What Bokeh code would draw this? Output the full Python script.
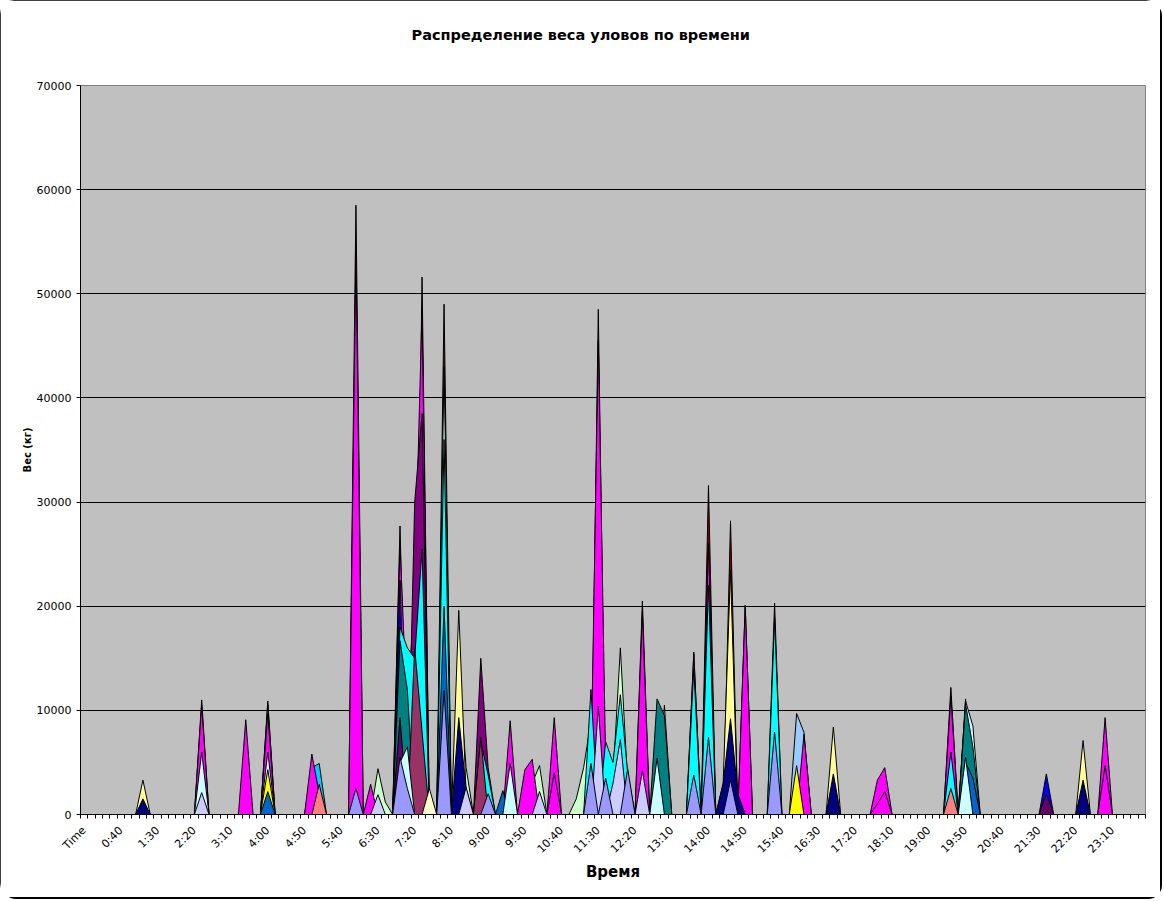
import math
from bokeh.plotting import figure
from bokeh.models import Range1d, FixedTicker, Title
from bokeh.embed import file_html
from bokeh.resources import INLINE

# ---- categories (10-minute slots, first category is the header "Time") ----
categories = ["Time"] + [f"{m // 60}:{m % 60:02d}" for m in range(0, 1440, 10)]
label_step = 5
y_ticks = [0, 10000, 20000, 30000, 40000, 50000, 60000, 70000]

title_text = "Распределение веса уловов по времени"
x_title = "Время"
y_title = "Вес (кг)"

# ---- series values (kg), keyed by time slot ----
dark_tips = {"2:30": 11000, "4:00": 10900, "6:00": 58500, "7:00": 27700, "7:30": 51600,
             "8:00": 49000, "11:30": 48500, "12:30": 20500, "13:40": 15600, "14:00": 31600,
             "14:30": 28200, "14:50": 20100, "15:30": 20300, "19:30": 12200, "19:50": 11100}
pale_blue = {"4:00": 10600, "16:00": 9700, "16:10": 7900}
pale_green = {"6:30": 4400, "6:40": 1200, "8:20": 14000, "8:30": 4500, "10:00": 3000,
              "10:10": 4700, "11:00": 1500, "11:10": 4500, "11:20": 9000, "11:50": 3500,
              "12:00": 16000, "12:10": 3000, "13:00": 10500}
light_yellow = {"1:10": 3300, "8:20": 19600, "8:30": 2000, "14:20": 3000, "14:30": 23500,
                "16:50": 8400, "22:30": 7100}
sky_blue = {"5:00": 4500, "5:10": 4900}
magenta = {"2:30": 10500, "3:30": 9100, "4:00": 9700, "5:00": 5800, "5:10": 2000,
           "6:00": 54000, "6:20": 2900, "7:00": 26000, "7:10": 9000, "7:20": 22000,
           "7:30": 48500, "9:30": 9000, "9:50": 4300, "10:00": 5300, "10:30": 9300,
           "11:20": 4000, "11:30": 45500, "11:40": 5000, "12:30": 19500, "13:40": 15400,
           "14:00": 26000, "14:50": 20000, "16:10": 7700, "17:50": 3300, "18:00": 4500,
           "19:30": 11400, "23:00": 9300}
purple = {"7:20": 30000, "7:30": 38500, "8:50": 15000, "9:00": 4500}
pale_cyan_back = {"4:00": 6000, "8:00": 43000, "19:50": 10900, "20:00": 8500}
blue = {"7:00": 22500, "21:40": 3900}
cyan = {"7:00": 18000, "7:10": 16000, "7:20": 15000, "7:30": 25500, "8:00": 36000,
        "8:50": 7000, "9:00": 3800, "11:20": 12000, "11:40": 7000, "11:50": 5000,
        "12:00": 11500, "12:10": 4000, "13:40": 14000, "14:00": 22000, "15:30": 18800,
        "19:30": 6000}
teal = {"7:00": 16700, "7:10": 12000, "12:50": 11100, "13:00": 9500, "19:50": 10600, "20:00": 6500}
navy = {"1:10": 1500, "8:20": 9300, "8:30": 2500, "14:20": 3000, "14:30": 9200, "14:40": 2000,
        "16:50": 3900, "22:30": 3300}
plum = {"7:20": 16000, "7:30": 8000, "8:50": 7400}
dark_purple = {"7:00": 9300, "21:40": 2000}
yellow = {"4:00": 4300, "16:00": 4700}
blue_mid = {"4:00": 2200, "8:00": 20000, "9:20": 2300, "19:50": 5000, "20:00": 3500}
pale_cyan_front = {"2:30": 6000, "7:00": 5000, "7:10": 6500, "9:30": 4900, "12:50": 5400, "19:50": 5500}
coral = {"5:10": 2900, "19:30": 2500}
magenta_b = {"10:30": 4000, "17:50": 1000, "18:00": 2200, "23:00": 4700}
pale_yellow = {"7:40": 2500}
pale_lavender = {"2:30": 2100, "6:30": 1900, "8:30": 2600, "10:10": 2200, "11:30": 10400,
                 "11:50": 3000, "12:00": 7200, "12:30": 4200}
lavender = {"6:00": 2500, "7:00": 5500, "7:10": 2500, "8:00": 11900, "9:00": 2000,
            "11:20": 4900, "11:40": 3500, "12:10": 4400, "13:40": 3800, "14:00": 7400,
            "14:30": 3300, "15:30": 7900}

# drawing order: back to front
layers = [
    (dark_tips, "#800000"), (pale_blue, "#99CCFF"), (pale_green, "#CCFFCC"),
    (light_yellow, "#FFFF99"), (sky_blue, "#00CCFF"), (magenta, "#FF00FF"),
    (purple, "#800080"), (pale_cyan_back, "#CCFFFF"), (blue, "#0000FF"),
    (cyan, "#00FFFF"), (teal, "#008080"), (navy, "#000080"), (plum, "#993366"),
    (dark_purple, "#660066"), (yellow, "#FFFF00"), (blue_mid, "#0066CC"),
    (pale_cyan_front, "#CCFFFF"), (coral, "#FF8080"), (magenta_b, "#FF00FF"),
    (pale_yellow, "#FFFFCC"), (pale_lavender, "#CCCCFF"), (lavender, "#9999FF"),
]

n = len(categories)
pos = {c: i for i, c in enumerate(categories)}

FONT = "DejaVu Sans"

p = figure(width=1160, height=897, output_backend="svg", toolbar_location=None,
           x_range=Range1d(-0.5, n - 0.5), y_range=Range1d(0, 70000),
           min_border_left=80, min_border_right=15, min_border_top=85, min_border_bottom=83)
p.background_fill_color = "#C0C0C0"
p.border_fill_color = "white"
p.outline_line_color = "#808080"
p.outline_line_width = 1
p.styles = {"outline": "1px solid #000000", "outline-offset": "-1px",
            "border-radius": "14px", "box-shadow": "2px 2px 0px 0px #000000"}

xs = list(range(n))
for data, color in layers:
    vals = [0.0] * n
    for t, v in data.items():
        vals[pos[t]] = v
    p.patch(xs + [n - 1, 0], vals + [0, 0], fill_color=color, line_color="black",
            line_width=1)

# y axis
p.yaxis.ticker = FixedTicker(ticks=y_ticks)
p.ygrid.ticker = FixedTicker(ticks=y_ticks)
p.ygrid.grid_line_color = "black"
p.ygrid.grid_line_width = 1
p.xgrid.visible = False
p.yaxis.axis_line_color = "black"
p.yaxis.major_tick_out = 4
p.yaxis.major_tick_in = 0
p.yaxis.minor_tick_line_color = None
p.yaxis.major_label_standoff = 5
p.yaxis.major_label_text_font = FONT
p.yaxis.major_label_text_font_size = "11px"
p.yaxis.major_label_text_color = "black"
p.yaxis.axis_label = y_title
p.yaxis.axis_label_text_font = FONT
p.yaxis.axis_label_text_font_size = "10px"
p.yaxis.axis_label_text_font_style = "bold"
p.yaxis.axis_label_text_color = "black"
p.yaxis.axis_label_standoff = 1

# x axis
label_pos = list(range(0, n, label_step))
p.xaxis.ticker = FixedTicker(ticks=label_pos, minor_ticks=[i - 0.5 for i in range(n + 1)])
p.xaxis.major_label_overrides = {i: categories[i] for i in label_pos}
p.xaxis.major_label_orientation = math.pi / 4
p.xaxis.axis_line_color = "black"
p.xaxis.major_tick_out = 0
p.xaxis.major_tick_in = 0
p.xaxis.minor_tick_out = 4
p.xaxis.minor_tick_in = 0
p.xaxis.minor_tick_line_color = "black"
p.xaxis.major_label_standoff = 10
p.xaxis.major_label_text_font = FONT
p.xaxis.major_label_text_font_size = "11px"
p.xaxis.major_label_text_color = "black"
p.xaxis.axis_label = x_title
p.xaxis.axis_label_text_font = FONT
p.xaxis.axis_label_text_font_size = "15px"
p.xaxis.axis_label_text_font_style = "bold"
p.xaxis.axis_label_text_color = "black"
p.xaxis.axis_label_standoff = 0

# spacer between title and plot (nearest the frame)
p.add_layout(Title(text=" ", text_font_size="37px", standoff=0), "above")

# chart title
p.title.text = title_text
p.title.align = "left"
p.title.offset = 331
p.title.standoff = 0
p.title.text_font = FONT
p.title.text_font_size = "14.5px"
p.title.text_font_style = "bold"
p.title.text_color = "black"

open("out.html", "w").write(file_html(p, INLINE))
